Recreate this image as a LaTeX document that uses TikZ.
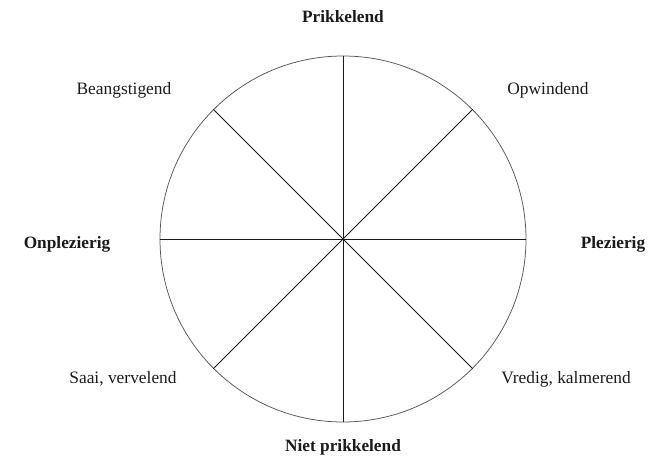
\documentclass[tikz,border=0pt]{standalone}
\usepackage{fontspec}
\setmainfont{Liberation Serif}
\definecolor{wlInk}{HTML}{1A1A1A}
\definecolor{wlRim}{HTML}{555555}

\begin{document}
\begin{tikzpicture}[x=1pt,y=-1pt,
                    line width=0.75pt,
                    wheel/.style={circle,draw=wlRim,minimum size=366pt,inner sep=0pt},
                    spoke/.style={draw=wlInk},
                    pole/.style={font=\fontsize{17.3}{19}\selectfont\bfseries,text=wlInk},
                    mood/.style={font=\fontsize{17.4}{19}\selectfont,text=wlInk}]
  \useasboundingbox (0,0) rectangle (665,458);
  \node[wheel] (wheel) at (343,239) {};
  % spokes
  \draw[spoke] (wheel.north) -- (wheel.south);
  \draw[spoke] (wheel.west) -- (wheel.east);
  \draw[spoke] (wheel.135) -- (wheel.-45);
  \draw[spoke] (wheel.45) -- (wheel.-135);
  % axes
  \node[pole] (prikkelend) at (343,17) {Prikkelend};
  \node[pole] (nietprikkelend) at (343,447) {Niet prikkelend};
  \node[pole] (onplezierig) at (67,244) {Onplezierig};
  \node[pole] (plezierig) at (613,244) {Plezierig};
  % quadrants
  \node[mood] (beangstigend) at (124,90) {Beangstigend};
  \node[mood] (opwindend) at (548,90) {Opwindend};
  \node[mood] (saai) at (123,379) {Saai, vervelend};
  \node[mood] (vredig) at (566,379) {Vredig, kalmerend};
\end{tikzpicture}
\end{document}
